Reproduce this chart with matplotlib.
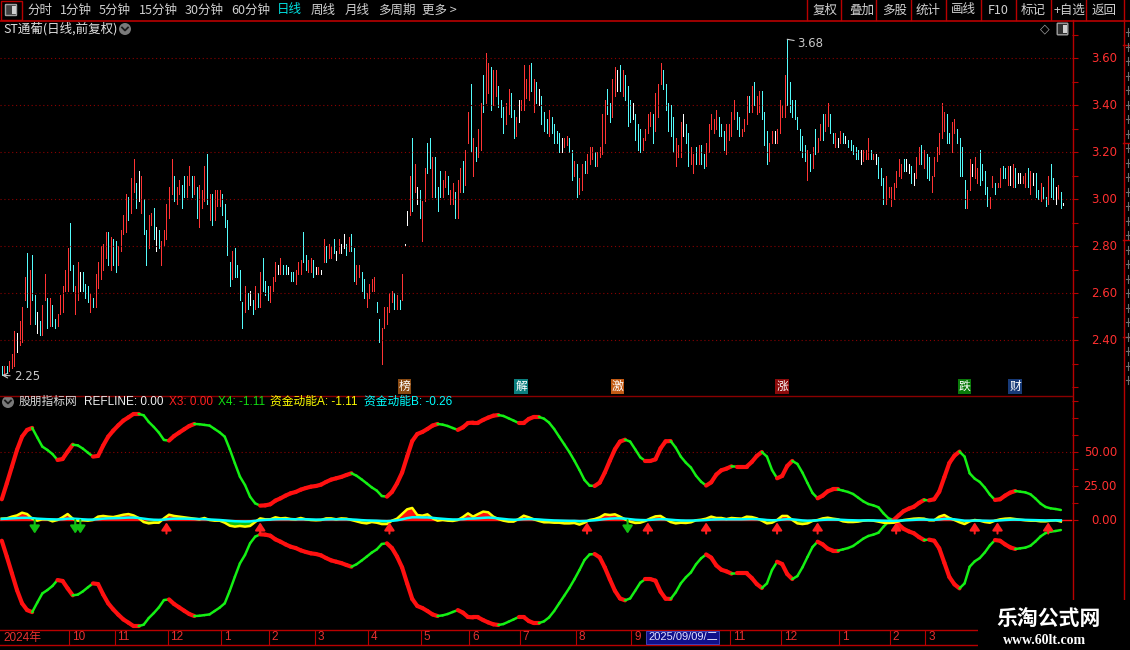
import numpy as np
import matplotlib
matplotlib.use("Agg")
import matplotlib.pyplot as plt
from matplotlib.collections import LineCollection
from matplotlib.patches import Rectangle, Circle, FancyBboxPatch

plt.rcParams['font.family'] = ['Noto Sans CJK SC', 'DejaVu Sans']

stock_title = "ST通葡(日线,前复权)"
indicator_name = "股朋指标网"
period_labels = ['分时', '1分钟', '5分钟', '15分钟', '30分钟', '60分钟', '日线', '周线', '月线', '多周期', '更多 >']
tool_labels = ['复权', '叠加', '多股', '统计', '画线', 'F10', '标记', '+自选', '返回']

# daily bars (high / low) and direction: r = up, c = down, w = flat
highs = [
    2.29, 2.29, 2.29, 2.31, 2.34, 2.44, 2.43, 2.48, 2.54, 2.67,
    2.77, 2.70, 2.76, 2.59, 2.52, 2.48, 2.55, 2.68, 2.58, 2.58,
    2.55, 2.49, 2.51, 2.59, 2.63, 2.70, 2.79, 2.90, 2.72, 2.63,
    2.73, 2.69, 2.69, 2.64, 2.63, 2.60, 2.58, 2.68, 2.73, 2.80,
    2.81, 2.86, 2.86, 2.84, 2.83, 2.82, 2.80, 2.87, 2.93, 3.02,
    3.01, 3.09, 3.17, 3.07, 3.12, 3.10, 3.00, 2.87, 2.93, 2.94,
    2.96, 2.88, 2.87, 2.82, 2.87, 2.98, 3.05, 3.17, 3.10, 3.05,
    3.08, 3.06, 3.10, 3.10, 3.14, 3.10, 3.10, 3.05, 3.06, 3.04,
    3.14, 3.19, 3.02, 3.02, 3.04, 3.04, 3.04, 3.02, 2.98, 2.91,
    2.73, 2.78, 2.79, 2.72, 2.70, 2.56, 2.63, 2.60, 2.61, 2.57,
    2.63, 2.60, 2.69, 2.75, 2.65, 2.63, 2.63, 2.67, 2.73, 2.72,
    2.75, 2.72, 2.72, 2.71, 2.69, 2.69, 2.70, 2.73, 2.74, 2.86,
    2.76, 2.74, 2.75, 2.74, 2.71, 2.71, 2.70, 2.83, 2.80, 2.81,
    2.80, 2.83, 2.78, 2.83, 2.81, 2.85, 2.81, 2.84, 2.85, 2.79,
    2.72, 2.72, 2.69, 2.66, 2.60, 2.64, 2.66, 2.67, 2.56, 2.49,
    2.45, 2.54, 2.54, 2.60, 2.61, 2.60, 2.59, 2.57, 2.68,
    2.81, 2.95, 3.10, 3.26, 3.15, 3.05, 3.04, 2.99, 3.13, 3.24,
    3.26, 3.18, 3.18, 3.05, 3.12, 3.08, 3.12, 3.10, 3.04, 3.07,
    3.03, 3.08, 3.13, 3.16, 3.21, 3.37, 3.49, 3.26, 3.22, 3.30,
    3.41, 3.53, 3.62, 3.58, 3.56, 3.55, 3.55, 3.48, 3.42, 3.39,
    3.41, 3.47, 3.45, 3.38, 3.35, 3.42, 3.42, 3.57, 3.51, 3.57,
    3.58, 3.51, 3.50, 3.47, 3.44, 3.37, 3.34, 3.38, 3.35, 3.32,
    3.29, 3.28, 3.26, 3.26, 3.27, 3.26, 3.21, 3.16, 3.15, 3.09,
    3.15, 3.16, 3.19, 3.22, 3.22, 3.20, 3.20, 3.22, 3.36, 3.42,
    3.47, 3.41, 3.51, 3.56, 3.55, 3.57, 3.55, 3.53, 3.48, 3.42,
    3.41, 3.36, 3.32, 3.30, 3.26, 3.30, 3.36, 3.37, 3.36, 3.45,
    3.49, 3.58, 3.55, 3.49, 3.41, 3.40, 3.35, 3.26, 3.23, 3.33,
    3.36, 3.32, 3.28, 3.22, 3.19, 3.22, 3.23, 3.23, 3.19, 3.24,
    3.32, 3.36, 3.34, 3.38, 3.35, 3.32, 3.29, 3.32, 3.32, 3.37,
    3.42, 3.37, 3.35, 3.30, 3.34, 3.44, 3.44, 3.48, 3.50, 3.44,
    3.46, 3.46, 3.37, 3.29, 3.24, 3.29, 3.29, 3.30, 3.42, 3.40,
    3.53, 3.68, 3.50,
    3.42, 3.42, 3.35, 3.30, 3.27, 3.23, 3.21, 3.19, 3.22, 3.30,
    3.26, 3.32, 3.36, 3.36, 3.41, 3.36, 3.28, 3.28, 3.26, 3.29,
    3.28, 3.27, 3.25, 3.25, 3.23, 3.22, 3.21, 3.21, 3.21, 3.21,
    3.26, 3.21, 3.19, 3.19, 3.18, 3.13, 3.09, 3.10, 3.05, 3.05,
    3.07, 3.12, 3.17, 3.15, 3.17, 3.17, 3.15, 3.14, 3.11, 3.18,
    3.22, 3.23, 3.21, 3.19, 3.18, 3.10, 3.18, 3.22, 3.28, 3.41,
    3.37, 3.36, 3.28, 3.33, 3.34, 3.30, 3.26, 3.22, 3.08, 3.04,
    3.17, 3.15, 3.18, 3.13, 3.21, 3.15, 3.12, 3.05, 3.01, 3.10,
    3.07, 3.07, 3.13, 3.14, 3.13, 3.14, 3.14, 3.15, 3.13, 3.11,
    3.11, 3.10, 3.11, 3.13, 3.12, 3.11, 3.11, 3.04, 3.07, 3.05,
    3.01, 3.10, 3.15, 3.09, 3.05, 3.06, 3.03, 2.985,
]
lows = [
    2.25, 2.25, 2.26, 2.27, 2.28, 2.29, 2.35, 2.38, 2.39, 2.57,
    2.54, 2.47, 2.57, 2.47, 2.43, 2.42, 2.42, 2.57, 2.45, 2.46,
    2.46, 2.45, 2.46, 2.51, 2.52, 2.61, 2.61, 2.70, 2.61, 2.51,
    2.57, 2.61, 2.61, 2.58, 2.56, 2.52, 2.54, 2.54, 2.62, 2.66,
    2.70, 2.75, 2.72, 2.70, 2.72, 2.69, 2.72, 2.78, 2.85, 2.86,
    2.91, 2.94, 3.03, 2.96, 2.99, 2.94, 2.85, 2.72, 2.79, 2.89,
    2.83, 2.78, 2.79, 2.72, 2.80, 2.83, 2.92, 3.02, 2.99, 2.98,
    3.02, 2.96, 3.01, 3.01, 3.06, 3.01, 3.02, 2.92, 2.88, 2.96,
    2.99, 2.98, 2.91, 2.89, 2.91, 2.97, 2.97, 2.93, 2.88, 2.76,
    2.63, 2.66, 2.67, 2.67, 2.57, 2.45, 2.52, 2.53, 2.55, 2.51,
    2.53, 2.54, 2.54, 2.61, 2.59, 2.57, 2.56, 2.61, 2.65, 2.68,
    2.68, 2.68, 2.68, 2.68, 2.65, 2.65, 2.64, 2.68, 2.68, 2.73,
    2.70, 2.69, 2.69, 2.67, 2.68, 2.68, 2.68, 2.73, 2.73, 2.75,
    2.75, 2.77, 2.74, 2.77, 2.77, 2.79, 2.76, 2.78, 2.78, 2.65,
    2.64, 2.67, 2.61, 2.58, 2.54, 2.58, 2.61, 2.61, 2.52, 2.39,
    2.30, 2.45, 2.47, 2.52, 2.56, 2.53, 2.53, 2.53, 2.57,
    2.80, 2.89, 2.93, 2.95, 3.03, 2.98, 2.92, 2.82, 2.99, 3.11,
    3.13, 3.01, 3.01, 2.95, 3.01, 3.01, 3.05, 3.02, 2.98, 2.98,
    2.92, 2.92, 3.03, 3.03, 3.06, 3.24, 3.20, 3.10, 3.16, 3.18,
    3.21, 3.37, 3.41, 3.45, 3.38, 3.40, 3.44, 3.39, 3.35, 3.28,
    3.32, 3.36, 3.35, 3.26, 3.27, 3.33, 3.38, 3.38, 3.43, 3.42,
    3.46, 3.37, 3.41, 3.40, 3.32, 3.29, 3.28, 3.27, 3.28, 3.24,
    3.24, 3.20, 3.20, 3.22, 3.23, 3.20, 3.08, 3.10, 3.01, 3.02,
    3.04, 3.11, 3.11, 3.15, 3.17, 3.14, 3.14, 3.18, 3.19, 3.24,
    3.36, 3.33, 3.35, 3.44, 3.46, 3.46, 3.44, 3.42, 3.31, 3.33,
    3.34, 3.25, 3.21, 3.20, 3.21, 3.25, 3.28, 3.31, 3.24, 3.29,
    3.35, 3.49, 3.47, 3.38, 3.29, 3.27, 3.20, 3.14, 3.18, 3.18,
    3.27, 3.24, 3.14, 3.15, 3.11, 3.15, 3.15, 3.15, 3.13, 3.14,
    3.20, 3.30, 3.28, 3.30, 3.27, 3.27, 3.21, 3.19, 3.25, 3.27,
    3.34, 3.30, 3.27, 3.27, 3.29, 3.32, 3.37, 3.37, 3.40, 3.36,
    3.37, 3.34, 3.23, 3.15, 3.16, 3.24, 3.24, 3.24, 3.28, 3.35,
    3.35, 3.40, 3.37,
    3.35, 3.34, 3.30, 3.21, 3.18, 3.16, 3.08, 3.12, 3.13, 3.19,
    3.20, 3.25, 3.25, 3.29, 3.31, 3.28, 3.24, 3.22, 3.22, 3.24,
    3.24, 3.24, 3.22, 3.21, 3.19, 3.17, 3.17, 3.15, 3.16, 3.17,
    3.17, 3.17, 3.17, 3.15, 3.09, 3.06, 2.98, 2.98, 3.01, 2.97,
    3.00, 3.05, 3.10, 3.09, 3.12, 3.12, 3.11, 3.07, 3.06, 3.09,
    3.15, 3.15, 3.13, 3.09, 3.08, 3.03, 3.10, 3.16, 3.19, 3.26,
    3.29, 3.24, 3.24, 3.20, 3.28, 3.24, 3.10, 3.10, 2.96, 2.96,
    3.04, 3.10, 3.09, 3.07, 3.06, 3.08, 3.02, 2.97, 2.96, 3.05,
    3.02, 3.05, 3.05, 3.09, 3.09, 3.06, 3.06, 3.05, 3.05, 3.07,
    3.07, 3.07, 3.05, 3.05, 3.02, 3.06, 3.01, 3.00, 2.99, 3.00,
    2.97, 2.98, 3.01, 3.00, 2.98, 3.00, 2.96, 2.975,
]
moves = (
    "crcrrrwrrr" "crccwcrrcr" "ccrrrrrccr" "rwcccrcrrr" "rrcrccrrrr"
    "crrcwrccrr" "cwcrrrrrcr" "rccrrcrcrr" "rcrcrrrccc" "crccccrcwc"
    "rcrcccrrrw" "rccwccrrrc" "crrcwrwrcr" "rcwrwwcrcc" "rrccrrrrcc"
    "rrrrrcrcr"
    "wwrcrwcrrc" "crcccrrcrr" "crrcrrcrcr" "rcrrcrrccc" "rrccrwrrrr"
    "crcwcccrcc" "ccwrrccrcr" "rcrrrcrrrr" "ccrrwcrccc" "wcccrrrrcr"
    "rrcccccrrr" "wccrrcrccr" "rrrrcccrrr" "rccrrrcrcr" "rcccrrwrrr"
    "rcc"
    "ccccccrcrc" "rrcrrccrwr" "cwcccccwrr" "rcrwcccrrr" "rrrrcwwcwr"
    "rcrccrrrrr" "rccrrccccr" "rwrrccccrr" "crrccrwrcw" "wrrcrwccrc"
    "crccwrcw"
)

# indicator values, one every second bar
wave = [
    15.3, 27.1, 39.4, 51.7, 61.5, 66.5, 68.0, 61.0, 54.2, 51.7,
    48.7, 44.3, 45.0, 50.5, 55.6, 55.1, 52.7, 49.7, 46.8, 47.3,
    54.9, 61.5, 66.0, 69.9, 73.4, 75.8, 78.3, 78.3, 77.3, 72.4,
    68.7, 64.5, 59.1, 58.6, 62.0, 64.5, 67.0, 69.4, 70.9, 70.7,
    70.2, 69.7, 67.2, 64.7, 61.5, 52.2, 41.9, 32.0, 25.8, 17.2,
    12.3, 10.6, 10.8, 11.6, 14.3, 16.0, 18.0, 19.7, 20.7, 22.4,
    23.6, 24.6, 25.1, 26.1, 28.1, 29.8, 30.8, 31.8, 33.2, 34.5,
    32.7, 30.0, 27.1, 24.1, 21.7, 17.7, 17.2, 20.7, 27.0, 35.0,
    46.8, 58.3, 63.5, 65.0, 67.2, 69.7, 70.9, 70.4, 69.4, 67.9,
    66.5, 68.4, 71.6, 71.9, 71.9, 73.9, 75.6, 77.0, 77.5, 76.8,
    75.1, 73.4, 71.6, 71.6, 74.6, 76.1, 76.1, 74.8, 71.9, 67.2,
    61.5, 55.9, 50.2, 43.8, 36.9, 29.5, 25.4, 25.1, 27.6, 35.0,
    43.8, 52.2, 57.9, 59.3, 57.9, 52.2, 46.3, 43.6, 43.6, 44.8,
    52.9, 58.1, 58.3, 53.4, 46.8, 42.3, 38.7, 32.7, 28.3, 25.4,
    27.8, 33.5, 36.7, 37.9, 39.6, 39.4, 39.4, 39.4, 42.8, 47.3,
    50.2, 46.8, 36.9, 30.8, 32.5, 39.9, 43.6, 41.4, 35.0, 27.3,
    19.9, 16.0, 18.0, 21.2, 22.6, 22.6, 21.7, 20.7, 19.2, 16.5,
    13.8, 11.8, 10.8, 9.4, 4.9, 1.2, 0.0, 3.4, 6.6, 8.4,
    9.8, 12.6, 14.8, 14.5, 15.3, 20.9, 31.5, 42.1, 47.5, 50.5,
    46.8, 34.5, 30.5, 28.1, 23.9, 18.7, 14.8, 15.3, 18.0, 20.2,
    21.4, 20.9, 20.4, 19.0, 15.8, 12.1, 9.6, 8.6, 8.1, 7.4,
]
fund_a = [
    1.0, 1.2, 2.5, 3.4, 5.4, 4.4, 1.0, -0.5, 0.5, 0.5,
    -1.0, 0.0, 2.0, 4.4, 1.0, -0.5, -0.2, -0.5, 0.0, 2.5,
    3.0, 2.5, 2.2, 3.0, 3.9, 4.4, 3.4, 1.5, -1.5, -2.5,
    -2.0, -2.0, 1.2, 3.9, 3.0, 2.5, 2.0, 1.5, 1.0, 0.5,
    1.5, 0.0, -0.5, -0.5, -2.0, -4.2, -4.9, -4.4, -4.9, -4.4,
    -1.5, 1.2, 0.5, 0.5, 2.0, 1.2, 1.5, 0.7, 0.5, 1.5,
    0.5, 0.0, -0.2, 0.0, 1.2, 1.2, 0.5, 1.2, 1.0, 0.0,
    -1.0, -2.0, -2.5, -1.5, -2.0, -3.0, -3.0, -0.5, 1.0, 4.4,
    7.9, 8.9, 3.7, 3.2, 4.2, 1.2, -0.5, 0.0, -0.5, -0.7,
    0.0, 2.2, 4.9, 2.5, 4.4, 6.2, 5.7, 2.5, 0.7, -0.5,
    -1.2, -1.2, 0.7, 3.2, 2.0, 0.5, -0.7, -1.7, -1.7, -2.0,
    -2.0, -2.5, -2.5, -2.2, -3.4, -2.0, 0.0, 0.7, 2.0, 4.2,
    3.7, 4.2, 2.5, 0.5, -1.2, -2.2, -2.0, -0.7, 1.2, 2.7,
    3.0, 0.7, -1.5, -2.5, -2.0, -2.2, -1.7, -0.2, 0.2, 1.0,
    2.5, 1.5, 1.5, 0.7, 1.5, 1.2, 1.0, 2.5, 2.2, 1.2,
    -0.5, -2.5, -2.0, 0.0, 3.0, 3.0, 0.0, -2.5, -3.0, -2.5,
    -0.7, 0.0, 1.2, 1.7, 1.0, 0.5, -1.0, -1.5, -1.5, -1.2,
    -0.5, -0.2, -0.5, -1.2, -2.0, -2.2, -2.0, -1.0, 0.0, 0.5,
    1.0, 1.2, 1.0, -0.2, -0.2, 2.5, 3.7, 1.5, 0.0, -1.7,
    -3.0, -1.0, 0.0, -0.5, -1.5, -2.0, -0.5, 0.5, 1.0, 1.2,
    0.7, 0.2, -0.2, -0.5, -0.5, -1.0, -1.0, -0.5, -0.2, -1.11,
]
fund_b = [
    0.8, 1.0, 1.2, 1.4, 1.6, 1.6, 1.4, 1.0, 0.8, 0.6,
    0.5, 0.4, 0.6, 1.0, 1.0, 0.8, 0.5, 0.3, 0.3, 0.6,
    1.0, 1.2, 1.3, 1.4, 1.6, 1.8, 1.8, 1.5, 1.0, 0.5,
    0.2, 0.1, 0.3, 0.8, 1.0, 1.0, 1.0, 0.9, 0.8, 0.7,
    0.6, 0.4, 0.2, 0.0, -0.3, -0.6, -0.9, -1.0, -1.1, -1.0,
    -0.6, -0.2, 0.1, 0.3, 0.5, 0.6, 0.6, 0.6, 0.5, 0.5,
    0.5, 0.4, 0.3, 0.3, 0.4, 0.5, 0.5, 0.5, 0.5, 0.4,
    0.2, -0.1, -0.3, -0.4, -0.5, -0.7, -0.8, -0.6, -0.2, 0.5,
    1.4, 2.0, 2.0, 1.9, 1.9, 1.6, 1.2, 0.9, 0.6, 0.4,
    0.4, 0.6, 1.0, 1.1, 1.3, 1.6, 1.8, 1.6, 1.2, 0.8,
    0.4, 0.2, 0.3, 0.6, 0.7, 0.6, 0.4, 0.1, -0.1, -0.3,
    -0.4, -0.5, -0.6, -0.6, -0.8, -0.7, -0.5, -0.2, 0.2, 0.7,
    1.0, 1.2, 1.2, 1.0, 0.6, 0.2, 0.0, -0.1, 0.1, 0.4,
    0.6, 0.5, 0.2, -0.1, -0.3, -0.4, -0.4, -0.3, -0.2, 0.0,
    0.3, 0.4, 0.5, 0.5, 0.5, 0.5, 0.5, 0.6, 0.7, 0.6,
    0.4, 0.0, -0.2, -0.1, 0.3, 0.6, 0.5, 0.1, -0.3, -0.5,
    -0.4, -0.2, 0.1, 0.3, 0.3, 0.3, 0.1, -0.1, -0.2, -0.3,
    -0.3, -0.3, -0.3, -0.4, -0.5, -0.6, -0.6, -0.5, -0.3, -0.1,
    0.1, 0.3, 0.3, 0.2, 0.1, 0.4, 0.8, 0.8, 0.5, 0.0,
    -0.5, -0.5, -0.4, -0.4, -0.5, -0.6, -0.5, -0.3, 0.0, 0.2,
    0.3, 0.2, 0.1, 0.0, -0.1, -0.2, -0.3, -0.3, -0.3, -0.26,
]
refline = 0.0

buy_bars = [65, 102, 153, 231, 255, 278, 306, 322, 353, 384, 393, 413]
sell_bars = [13, 29, 31, 247]

event_labels = ['榜', '解', '激', '涨', '跌', '财']
event_bars = [159, 205, 243, 308, 380, 400]
event_colors = ['#8a4a12', '#0b7f7f', '#c25a14', '#8c0a0a', '#0a7a0a', '#173a78']

month_labels = ['2024年', '10', '11', '12', '1', '2', '3', '4', '5', '6', '7', '8', '9',
                '11', '12', '1', '2', '3']
month_bars = [0, 27, 45, 66, 87, 106, 124, 145, 166, 185, 205, 227, 249,
              288, 308, 331, 351, 365]
cursor_bar = 255
cursor_label = '2025/09/09/二'

price_ticks = [2.40, 2.60, 2.80, 3.00, 3.20, 3.40, 3.60]
wave_ticks = [0, 25, 50]

W, H = 1130.0, 650.0
RED_LINE = '#b80000'
NARROW = ['Liberation Sans', 'Noto Sans CJK SC']


def frame(l, t, r, b):
    return [l / W, 1 - b / H, (r - l) / W, (b - t) / H]


def bare(ax):
    ax.set_facecolor('black')
    for s in ax.spines.values():
        s.set_visible(False)
    ax.set_xticks([])
    ax.set_xlim(-0.7, 422.4)


def draw_price(ax):
    n = min(len(highs), len(lows), len(moves))
    idx = np.arange(n)
    hi = np.array(highs[:n])
    lo = np.array(lows[:n])
    palette = {'r': '#ff3434', 'c': '#54fcfc', 'w': '#ffffff'}
    cols = [palette[m] for m in moves[:n]]
    lc = ax.vlines(idx, lo, hi, colors=cols, linewidth=0.55, antialiased=False)
    lc.set_capstyle('projecting')

    ax.set_ylim(2.166, 3.762)
    ax.yaxis.tick_right()
    ax.set_yticks(np.round(np.arange(2.2, 3.71, 0.1), 2))
    ax.tick_params(axis='y', length=4, width=0.8, color=RED_LINE, labelright=False)
    for p in price_ticks:
        ax.axhline(p, color='#8b0000', lw=0.8, ls=(0, (1, 2.5)))
        ax.text(1117 / 1072, p, f'{p:.2f}', transform=ax.get_yaxis_transform(),
                ha='right', va='center', color='#ff3030', fontsize=8.5,
                family='DejaVu Sans', clip_on=False)

    imax = int(np.argmax(hi))
    imin = int(np.argmin(lo))
    ax.annotate(f'{hi[imax]:.2f}', xy=(imax, hi[imax]), xytext=(7, -3),
                textcoords='offset points', color='#c8c8c8', fontsize=8.5,
                family='DejaVu Sans', ha='left', va='center',
                arrowprops=dict(arrowstyle='-', color='#c8c8c8', lw=0.8,
                                shrinkA=0, shrinkB=0))
    ax.annotate(f'{lo[imin]:.2f}', xy=(imin, lo[imin]), xytext=(9, -1),
                textcoords='offset points', color='#c8c8c8', fontsize=8.5,
                family='DejaVu Sans', ha='left', va='center',
                arrowprops=dict(arrowstyle='->', color='#c8c8c8', lw=0.8,
                                shrinkA=1, shrinkB=0))

    for lab, b, c in zip(event_labels, event_bars, event_colors):
        ax.text(b, 0.022, lab, transform=ax.get_xaxis_transform(), ha='center',
                va='center', fontsize=8.5, color='white',
                bbox=dict(boxstyle='square,pad=0.08', fc=c, ec='none'))


def draw_indicator(ax):
    v = np.array(wave)
    kx = np.arange(len(v)) * 2
    rising = v[1:] >= v[:-1]
    colors = np.where(rising, '#ff1010', '#14f014')
    widths = np.where(rising, 3.0, 1.8)
    for sign in (1, -1):
        segs = [[(kx[k], sign * v[k]), (kx[k + 1], sign * v[k + 1])] for k in range(len(v) - 1)]
        ax.add_collection(LineCollection(segs, colors=colors, linewidths=widths,
                                         capstyle='round', zorder=3))

    a = np.array(fund_a)
    b = np.array(fund_b)
    ax.fill_between(kx, 0, a, where=a > 0, interpolate=True, color='#ff1010', lw=0, zorder=2)
    ax.fill_between(kx, 0, a, where=a < 0, interpolate=True, color='#10c010', lw=0, zorder=2)
    ax.axhline(refline, color='#ff1010', lw=1, zorder=2)
    ax.plot(kx, a, color='#ffff00', lw=1.8, zorder=4)
    ax.plot(kx, b, color='#00ffff', lw=1.8, zorder=5)

    for bb in buy_bars:
        ax.annotate('', xy=(bb, -1.8), xytext=(bb, -10),
                    arrowprops=dict(arrowstyle='-|>,head_width=0.3,head_length=0.45',
                                    color='#ff2020', lw=1.5, shrinkA=0, shrinkB=0), zorder=6)
    for bb in sell_bars:
        ax.annotate('', xy=(bb, -10), xytext=(bb, 0),
                    arrowprops=dict(arrowstyle='-|>,head_width=0.3,head_length=0.45',
                                    color='#12c012', lw=1.5, shrinkA=0, shrinkB=0), zorder=6)

    ax.set_ylim(-81.2, 90.8)
    ax.yaxis.tick_right()
    ax.set_yticks(np.arange(0, 88, 12.5))
    ax.tick_params(axis='y', length=4, width=0.8, color=RED_LINE, labelright=False)
    ax.axhline(50, color='#8b0000', lw=0.8, ls=(0, (1, 2.5)), zorder=1)
    for t in wave_ticks:
        ax.text(1117 / 1072, t, f'{t:.2f}', transform=ax.get_yaxis_transform(),
                ha='right', va='center', color='#ff3030', fontsize=8.5,
                family='DejaVu Sans', clip_on=False)


def draw_dates(ax):
    ax.set_ylim(0, 1)
    ax.set_yticks([])
    ax.axhline(1, color=RED_LINE, lw=1, clip_on=False)
    ax.axhline(0, color=RED_LINE, lw=1, clip_on=False)
    for lab, mb in zip(month_labels, month_bars):
        if mb > 0:
            ax.axvline(mb - 0.5, color=RED_LINE, lw=0.8)
        ax.annotate(lab, xy=(mb - 0.5, 0.5), xytext=(2, 0), textcoords='offset points',
                    ha='left', va='center', color='#e83030', fontsize=8.5, family=NARROW)
    ax.annotate(cursor_label, xy=(cursor_bar - 0.5, 0.5), xytext=(1, 0),
                textcoords='offset points', ha='left', va='center', color='#e0e0ff',
                fontsize=8, family=NARROW,
                bbox=dict(boxstyle='square,pad=0.15', fc='#10108a', ec='#4a4ac8', lw=0.6))


def draw_chrome(ov):
    ov.set_xlim(0, W)
    ov.set_ylim(H, 0)
    ov.axis('off')
    txt = '#d0d0d0'
    # top toolbar
    ov.add_patch(Rectangle((0.5, 0.5), 21.5, 19.5, fill=False, ec=RED_LINE, lw=1))
    ov.add_patch(FancyBboxPatch((6, 5), 10, 10, boxstyle='round,pad=0.5', fc='#404040', ec='#a0a0a0', lw=1))
    ov.add_patch(Rectangle((11.5, 6), 4, 8, fc='#d0d0d0', ec='none'))
    px = [27, 60, 99, 139, 185, 231, 277, 311, 345, 378, 422]
    for lab, x in zip(period_labels, px):
        ov.text(x, 10, lab, color='#00e0e0' if lab == '日线' else txt, fontsize=9,
                ha='left', va='center')
    tx = [813, 849, 882, 916, 951, 988, 1021, 1054, 1092]
    for lab, x in zip(tool_labels, tx):
        ov.text(x, 10, lab, color=txt, fontsize=9, ha='left', va='center')
    for x in [807, 841, 876, 911, 946, 981, 1016, 1051, 1086, 1124]:
        ov.plot([x, x], [0, 20], color=RED_LINE, lw=1)
    ov.plot([0, W], [20.5, 20.5], color=RED_LINE, lw=1.2)

    # title row
    ov.text(3, 29, stock_title, color='#e0e0e0', fontsize=9, ha='left', va='center')
    ov.add_patch(Circle((125, 29), 6, fc='#7a7a7a', ec='none'))
    ov.plot([122, 125, 128], [27.5, 30.5, 27.5], color='#1a1a1a', lw=1.3)
    ov.text(1045, 29, '◇', color='#a0a0a0', fontsize=9, ha='center', va='center', family='DejaVu Sans')
    ov.add_patch(FancyBboxPatch((1058, 24), 9, 10, boxstyle='round,pad=0.8', fc='#303030', ec='#a0a0a0', lw=1))
    ov.add_patch(Rectangle((1063, 25), 3.5, 8, fc='#d0d0d0', ec='none'))

    # frame lines and the clipped side panel
    ov.plot([1072.5, 1072.5], [20, 600], color=RED_LINE, lw=1)
    ov.plot([1123.5, 1123.5], [20, 650], color=RED_LINE, lw=1)
    ov.plot([0, 1072], [395.5, 395.5], color='#8a0000', lw=1)
    for y in [45, 143, 240, 337]:
        ov.plot([1123, 1130], [y, y], color=RED_LINE, lw=1)
    for i in range(25):
        y = 32 + i * 14.5
        ov.plot([1126, 1130], [y, y], color='#707070', lw=0.8)
        ov.plot([1127.5, 1127.5], [y - 4, y + 4], color='#707070', lw=0.8)

    # indicator header
    ov.add_patch(Circle((8, 402), 6, fc='#7a7a7a', ec='none'))
    ov.plot([5, 8, 11], [400.5, 403.5, 400.5], color='#1a1a1a', lw=1.3)
    x3_last = max(fund_a[-1], 0.0)
    x4_last = min(fund_a[-1], 0.0)
    head = [
        (18.7, indicator_name, '#d8d8d8'),
        (83.6, f'REFLINE: {refline:.2f}', '#f0f0f0'),
        (169, f'X3: {x3_last:.2f}', '#ff2020'),
        (218, f'X4: {x4_last:.2f}', '#10e010'),
        (270, f'资金动能A: {fund_a[-1]:.2f}', '#ffff00'),
        (364, f'资金动能B: {fund_b[-1]:.2f}', '#00ffff'),
    ]
    for x, s, c in head:
        ov.text(x, 402, s, color=c, fontsize=8.5, ha='left', va='center', family=NARROW)

    # watermark
    ov.add_patch(Rectangle((978, 600), 152, 50, fc='black', ec='none', zorder=8))
    ov.text(1049, 618, '乐淘公式网', color='white', fontsize=15, fontweight='bold',
            ha='center', va='center', zorder=9)
    ov.text(1045, 640, 'www.60lt.com', color='white', fontsize=10, fontweight='bold',
            family='Liberation Serif', ha='center', va='center', zorder=9)


def main():
    fig = plt.figure(figsize=(11.3, 6.5), dpi=100, facecolor='black')
    ax = fig.add_axes(frame(0, 20, 1072, 395))
    ind = fig.add_axes(frame(0, 397, 1072, 630))
    dax = fig.add_axes(frame(0, 630, 1072, 645))
    for a in (ax, ind, dax):
        bare(a)
    draw_price(ax)
    draw_indicator(ind)
    draw_dates(dax)
    ov = fig.add_axes([0, 0, 1, 1], zorder=5)
    draw_chrome(ov)
    fig.savefig('out.png', dpi=100, facecolor='black')


if __name__ == "__main__":
    main()
